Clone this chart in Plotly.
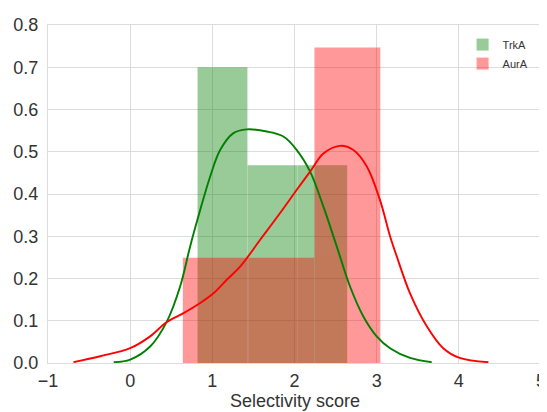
import plotly.graph_objects as go

# Histogram bins (edges) and densities
trka_edges = [0.82, 1.427, 2.034, 2.641]
trka_heights = [0.70, 0.468, 0.468]
aura_edges = [0.641, 1.442, 2.243, 3.045]
aura_heights = [0.249, 0.249, 0.747]

# KDE curves
trka_kde_x = [-0.20, 0.0, 0.243, 0.446, 0.608, 0.73, 0.852, 0.973, 1.095, 1.257, 1.42, 1.663, 1.865,
              2.028, 2.19, 2.352, 2.514, 2.676, 2.838, 3.0, 3.163, 3.406, 3.67]
trka_kde_y = [0.002, 0.008, 0.039, 0.098, 0.181, 0.276, 0.362, 0.441, 0.504, 0.544, 0.553, 0.548, 0.536,
              0.504, 0.453, 0.370, 0.276, 0.181, 0.110, 0.063, 0.035, 0.012, 0.002]
aura_kde_x = [-0.69, -0.365, 0.0, 0.243, 0.446, 0.649, 0.852, 1.014, 1.176, 1.338, 1.58, 1.825, 2.028,
              2.19, 2.352, 2.555, 2.717, 2.88, 3.04, 3.163, 3.245, 3.406, 3.61, 3.81, 4.01, 4.36]
aura_kde_y = [0.002, 0.016, 0.035, 0.063, 0.097, 0.118, 0.142, 0.165, 0.197, 0.228, 0.291, 0.355, 0.41,
              0.453, 0.496, 0.514, 0.504, 0.465, 0.386, 0.300, 0.252, 0.165, 0.087, 0.035, 0.012, 0.002]

x_ticks = [-1, 0, 1, 2, 3, 4, 5]
x_ticktext = ["\u22121", "0", "1", "2", "3", "4", "5"]
y_ticks = [0.0, 0.1, 0.2, 0.3, 0.4, 0.5, 0.6, 0.7, 0.8]
y_ticktext = ["0.0", "0.1", "0.2", "0.3", "0.4", "0.5", "0.6", "0.7", "0.8"]
x_title = "Selectivity score"


def centers(edges):
    return [(a + b) / 2 for a, b in zip(edges[:-1], edges[1:])]


def widths(edges):
    return [b - a for a, b in zip(edges[:-1], edges[1:])]


fig = go.Figure()
fig.add_trace(go.Bar(x=centers(trka_edges), y=trka_heights, width=widths(trka_edges),
                     marker=dict(color="green", line=dict(width=0)), opacity=0.4, name="TrkA"))
fig.add_trace(go.Scatter(x=trka_kde_x, y=trka_kde_y, mode="lines", line=dict(color="green", width=1.9, shape="spline"),
                         showlegend=False, hoverinfo="skip"))
fig.add_trace(go.Bar(x=centers(aura_edges), y=aura_heights, width=widths(aura_edges),
                     marker=dict(color="red", line=dict(width=0)), opacity=0.4, name="AurA"))
fig.add_trace(go.Scatter(x=aura_kde_x, y=aura_kde_y, mode="lines", line=dict(color="red", width=1.9, shape="spline"),
                         showlegend=False, hoverinfo="skip"))

# The page body has an 8px default margin, so the figure is sized to fit the window.
fig.update_layout(
    width=539, height=404,
    margin=dict(l=40, r=6, t=17, b=49, autoexpand=False),
    barmode="overlay",
    plot_bgcolor="white", paper_bgcolor="white",
    font=dict(family="Liberation Sans, Arial, sans-serif", color="#333333", size=18),
    legend=dict(x=0.985, y=0.985, xanchor="right", yanchor="top", bgcolor="rgba(0,0,0,0)",
                font=dict(size=11, color="#333333"), tracegroupgap=0),
    showlegend=True,
    annotations=[dict(text=x_title, xref="paper", yref="paper", x=0.5, y=-0.112, xanchor="center",
                      yanchor="middle", showarrow=False, font=dict(size=18, color="#333333"))],
)
fig.update_xaxes(range=[-1, 5], tickvals=x_ticks, ticktext=x_ticktext, showgrid=True, gridcolor="#dcdcdc",
                 gridwidth=1, zeroline=False, showline=True, linecolor="#dcdcdc", mirror=True, ticks="",
                 automargin=False, ticklabelstandoff=1)
fig.update_yaxes(range=[0, 0.8], tickvals=y_ticks, ticktext=y_ticktext, showgrid=True, gridcolor="#dcdcdc",
                 gridwidth=1, zeroline=False, showline=True, linecolor="#dcdcdc", mirror=True, ticks="",
                 automargin=False, ticklabelstandoff=5)

fig.write_html("out.html")
